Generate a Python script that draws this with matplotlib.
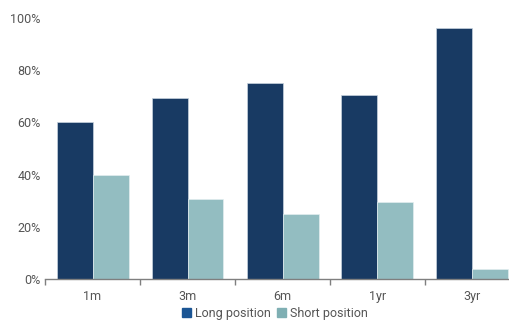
import matplotlib.pyplot as plt
import matplotlib.patches as mpatches
import numpy as np

plt.rcParams["font.family"] = ["Roboto", "DejaVu Sans"]

categories = ["1m", "3m", "6m", "1yr", "3yr"]
long_position = [60.0, 69.2, 75.2, 70.6, 96.0]
short_position = [40.0, 30.8, 24.8, 29.4, 4.0]

long_color = "#183A63"
short_color = "#93BDC1"

fig = plt.figure(figsize=(5.10, 3.22), dpi=100)
# the plot area runs a little past the right edge, as in the reference
ax = fig.add_axes([45 / 510, 43 / 322, 475 / 510, 261 / 322])

x = np.arange(len(categories))
w = 36 / 95
ax.bar(x - w / 2, long_position, w, color=long_color, edgecolor="#C8D3DE", linewidth=0.5)
ax.bar(x + w / 2, short_position, w, color=short_color, edgecolor="#E3EEEF", linewidth=0.5)

ax.set_xlim(-0.5, 4.5)
ax.set_ylim(0, 100)
ax.set_yticks(np.arange(0, 101, 20))
ax.set_yticklabels([f"{v}%" for v in range(0, 101, 20)])
ax.set_xticks(x)
ax.set_xticklabels(categories)
ax.set_xticks(np.arange(-0.5, 4.6, 1), minor=True)

for s in ["top", "right", "left"]:
    ax.spines[s].set_visible(False)
ax.spines["bottom"].set_color("#7F7F7F")
ax.spines["bottom"].set_linewidth(1)

ax.tick_params(axis="y", length=0, pad=3, labelsize=9, labelcolor="#555555")
ax.tick_params(axis="x", which="major", length=0, pad=8, labelsize=9, labelcolor="#555555")
ax.tick_params(axis="x", which="minor", length=4, color="#7F7F7F", width=1)

handles = [
    mpatches.Patch(color="#1B5594", label="Long position"),
    mpatches.Patch(color="#7FAFB3", label="Short position"),
]
fig.legend(handles=handles, loc="center", bbox_to_anchor=(275 / 510, 1 - 313 / 322),
           ncol=2, frameon=False, fontsize=9, handlelength=0.7, handleheight=0.7,
           handletextpad=0.3, columnspacing=0.5, labelcolor="#555555")

fig.savefig("out.png", dpi=100)
